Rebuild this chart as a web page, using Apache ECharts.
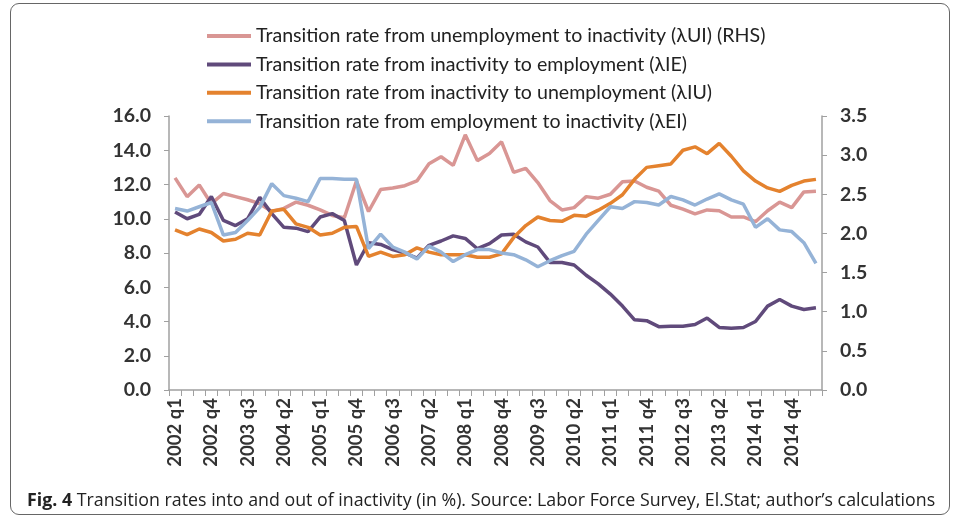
<!DOCTYPE html>
<html>
<head>
<meta charset="utf-8">
<script src="https://cdn.jsdelivr.net/npm/echarts@6/dist/echarts.min.js"></script>
<style>
  html, body { margin: 0; padding: 0; background: #fff; }
  #wrap { position: relative; width: 958px; height: 518px; overflow: hidden; }
  #chart { position: absolute; left: 0; top: 0; width: 958px; height: 518px; }
  #frame { position: absolute; left: 10px; top: 3px; width: 938px; height: 510px; border: 1.5px solid #666; border-radius: 9px; pointer-events: none; }
  #caption { position: absolute; left: 27px; top: 487px; font-family: "Open Sans", sans-serif; font-size: 17.8px; color: #222; white-space: nowrap; }
  #caption b { font-weight: 700; }
</style>
</head>
<body>
<div id="wrap">
  <div id="chart"></div>
  <div id="frame"></div>
  <div id="caption"><b>Fig. 4</b> Transition rates into and out of inactivity (in %). Source: Labor Force Survey, El.Stat; author’s calculations</div>
</div>
<script>
// Quarters 2002 q1 .. 2015 q2
const years = [2002, 2003, 2004, 2005, 2006, 2007, 2008, 2009, 2010, 2011, 2012, 2013, 2014, 2015];
const quarters = ["q1", "q2", "q3", "q4"];
const categories = [];
years.forEach(y => quarters.forEach(q => { if (!(y === 2015 && (q === "q3" || q === "q4"))) categories.push(y + " " + q); }));

const seriesNames = [
  "Transition rate from unemployment to inactivity (λUI) (RHS)",
  "Transition rate from inactivity to employment (λIE)",
  "Transition rate from inactivity to unemployment (λIU)",
  "Transition rate from employment to inactivity (λEI)"
];

// λUI (right-hand scale)
const lambdaUI = [2.71, 2.47, 2.62, 2.38, 2.51, 2.47, 2.43, 2.38, 2.28, 2.32, 2.40, 2.36, 2.30, 2.23, 2.20, 2.67,
  2.28, 2.56, 2.58, 2.61, 2.67, 2.89, 2.98, 2.87, 3.26, 2.93, 3.02, 3.17, 2.78, 2.83, 2.65, 2.42,
  2.30, 2.33, 2.47, 2.45, 2.50, 2.66, 2.67, 2.59, 2.54, 2.36, 2.31, 2.25, 2.30, 2.29, 2.21, 2.21,
  2.15, 2.29, 2.40, 2.33, 2.53, 2.54];
// λIE (left scale)
const lambdaIE = [10.4, 10.0, 10.25, 11.3, 9.9, 9.6, 10.0, 11.25, 10.3, 9.5, 9.45, 9.25, 10.1, 10.3, 9.9, 7.3,
  8.6, 8.5, 8.2, 8.0, 7.7, 8.45, 8.7, 9.0, 8.85, 8.25, 8.55, 9.05, 9.1, 8.65, 8.35, 7.45,
  7.45, 7.3, 6.7, 6.2, 5.6, 4.9, 4.1, 4.05, 3.7, 3.72, 3.72, 3.82, 4.2, 3.65, 3.6, 3.65,
  4.0, 4.9, 5.28, 4.9, 4.7, 4.8];
// λIU (left scale)
const lambdaIU = [9.35, 9.07, 9.4, 9.2, 8.7, 8.8, 9.15, 9.05, 10.45, 10.55, 9.7, 9.5, 9.05, 9.15, 9.5, 9.55,
  7.8, 8.05, 7.8, 7.9, 8.3, 8.05, 7.9, 7.9, 7.9, 7.75, 7.75, 7.95, 8.9, 9.6, 10.1, 9.9,
  9.85, 10.2, 10.15, 10.5, 10.9, 11.4, 12.3, 13.0, 13.1, 13.2, 14.0, 14.2, 13.8, 14.4, 13.65, 12.8,
  12.2, 11.8, 11.6, 11.95, 12.2, 12.3];
// λEI (left scale)
const lambdaEI = [10.6, 10.45, 10.7, 10.95, 9.05, 9.2, 9.9, 10.65, 12.05, 11.35, 11.2, 11.0, 12.35, 12.35, 12.3, 12.3,
  8.25, 9.1, 8.35, 8.05, 7.65, 8.4, 8.05, 7.5, 7.9, 8.2, 8.2, 8.0, 7.9, 7.6, 7.2, 7.55,
  7.85, 8.1, 9.1, 9.9, 10.7, 10.6, 11.0, 10.95, 10.8, 11.3, 11.1, 10.8, 11.15, 11.45, 11.1, 10.85,
  9.5, 10.0, 9.35, 9.25, 8.6, 7.4];

const colors = ["#D99694", "#604A7B", "#E4822E", "#95B3D7"];
const font = "Lato, 'Open Sans', sans-serif";

const chart = echarts.init(document.getElementById("chart"), null, { renderer: "canvas" });
const mk = (name, data, axis, color) => ({
  name, type: "line", data, yAxisIndex: axis, symbol: "none", smooth: false,
  lineStyle: { width: 3.5, color }, itemStyle: { color }, animation: false
});
chart.setOption({
  animation: false,
  legend: {
    orient: "vertical", left: 202, top: 21, itemWidth: 44, itemHeight: 4, itemGap: 8.4,
    icon: "rect",
    textStyle: { fontFamily: font, fontSize: 19.6, lineHeight: 20, color: "#222" },
    data: seriesNames
  },
  grid: { left: 169, right: 136, top: 116, bottom: 128, containLabel: false },
  xAxis: {
    type: "category", data: categories, boundaryGap: true,
    axisLine: { lineStyle: { color: "#A0A0A0", width: 1.5 } },
    axisTick: { show: true, interval: 0, length: 6, lineStyle: { color: "#A0A0A0" } },
    axisLabel: { interval: 2, rotate: 90, fontFamily: font, fontSize: 18.5, fontWeight: "bold", color: "#333", margin: 8 },
    splitLine: { show: false }
  },
  yAxis: [
    { type: "value", min: 0, max: 16, interval: 2, position: "left",
      axisLine: { show: true, lineStyle: { color: "#A0A0A0", width: 1.5 } },
      axisTick: { show: true, length: 5, lineStyle: { color: "#A0A0A0" } },
      axisLabel: { formatter: v => v.toFixed(1), fontFamily: font, fontSize: 19.5, fontWeight: "bold", color: "#333", margin: 18 },
      splitLine: { show: false } },
    { type: "value", min: 0, max: 3.5, interval: 0.5, position: "right",
      axisLine: { show: true, lineStyle: { color: "#A0A0A0", width: 1.5 } },
      axisTick: { show: true, length: 5, lineStyle: { color: "#A0A0A0" } },
      axisLabel: { formatter: v => v.toFixed(1), fontFamily: font, fontSize: 19.5, fontWeight: "bold", color: "#333", margin: 18 },
      splitLine: { show: false } }
  ],
  series: [
    mk(seriesNames[0], lambdaUI, 1, colors[0]),
    mk(seriesNames[1], lambdaIE, 0, colors[1]),
    mk(seriesNames[2], lambdaIU, 0, colors[2]),
    mk(seriesNames[3], lambdaEI, 0, colors[3])
  ]
});
</script>
</body>
</html>
